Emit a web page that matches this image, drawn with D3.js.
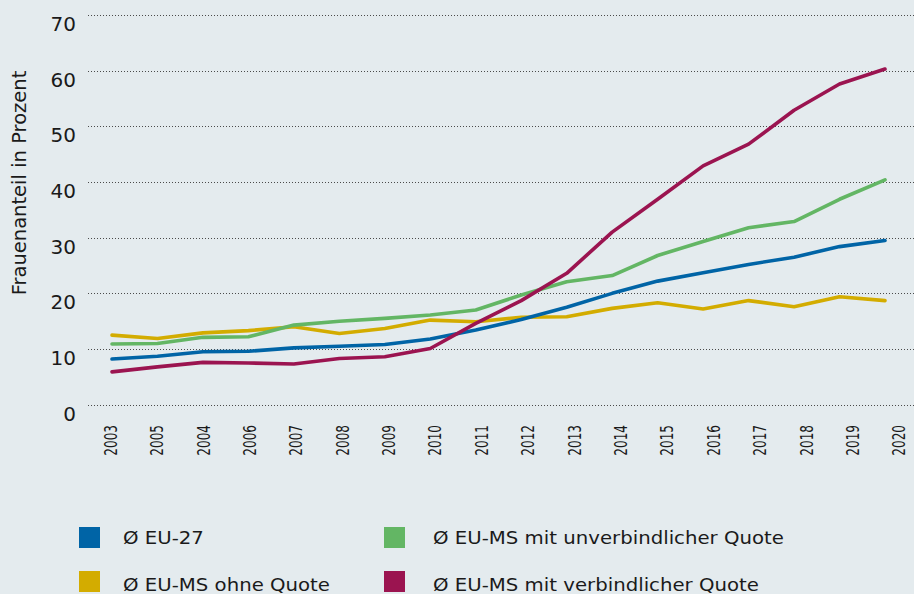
<!DOCTYPE html>
<html>
<head>
<meta charset="utf-8">
<script src="https://cdn.jsdelivr.net/npm/d3@7"></script>
<style>
  html, body { margin: 0; padding: 0; background: #e4ebee; }
  text { font-family: "DejaVu Sans", sans-serif; fill: #1a1a1a; }
</style>
</head>
<body>
<div id="chart"></div>
<script>
// years as printed under the axis (order kept as in the source)
var yearLabels = ["2003", "2005", "2004", "2006", "2007", "2008", "2009", "2010", "2011",
  "2012", "2013", "2014", "2015", "2016", "2017", "2018", "2019", "2020"];

var yTicks = [0, 10, 20, 30, 40, 50, 60, 70];

var seriesNames = ["Ø EU-27", "Ø EU-MS mit unverbindlicher Quote",
  "Ø EU-MS ohne Quote", "Ø EU-MS mit verbindlicher Quote"];

var euAvg      = [8.2, 8.7, 9.5, 9.6, 10.2, 10.5, 10.8, 11.8, 13.4, 15.3, 17.5, 20.0, 22.2, 23.7, 25.2, 26.5, 28.4, 29.5];
var unverbindl = [10.9, 11.0, 12.1, 12.2, 14.3, 15.0, 15.5, 16.1, 17.0, 19.7, 22.1, 23.2, 26.8, 29.3, 31.8, 32.9, 36.9, 40.4];
var ohneQuote  = [12.5, 11.9, 12.9, 13.3, 14.0, 12.8, 13.7, 15.2, 14.9, 15.7, 15.8, 17.3, 18.3, 17.2, 18.7, 17.6, 19.4, 18.7];
var verbindl   = [5.9, 6.8, 7.6, 7.5, 7.3, 8.3, 8.6, 10.1, 14.6, 18.7, 23.6, 31.0, 36.9, 42.9, 46.8, 52.9, 57.6, 60.3];

var colors = ["#0064a6", "#63b664", "#d3ac00", "#9b1450"];

// draw order: yellow, blue, green, magenta on top
var series = [
  { name: seriesNames[2], values: ohneQuote, color: colors[2] },
  { name: seriesNames[0], values: euAvg, color: colors[0] },
  { name: seriesNames[1], values: unverbindl, color: colors[1] },
  { name: seriesNames[3], values: verbindl, color: colors[3] }
];

var width = 914, height = 594;

var svg = d3.select("#chart").append("svg")
  .attr("width", width)
  .attr("height", height);

svg.append("rect")
  .attr("width", width)
  .attr("height", height)
  .attr("fill", "#e4ebee");

var y = d3.scaleLinear().domain([0, 70]).range([404.7, 15]);
// data points and printed labels are not quite on the same grid in the source
var x = d3.scalePoint().domain(yearLabels).range([112, 885]);
var xLab = d3.scalePoint().domain(yearLabels).range([110, 898.5]);

// dotted gridlines
svg.selectAll(".grid")
  .data(yTicks)
  .enter()
  .append("line")
    .attr("class", "grid")
    .attr("x1", 88)
    .attr("x2", width)
    .attr("y1", function (d) { return Math.round(y(d)) + 0.5; })
    .attr("y2", function (d) { return Math.round(y(d)) + 0.5; })
    .attr("stroke", "#4a4a4a")
    .attr("stroke-width", 1)
    .attr("stroke-dasharray", "1,2");

// y axis labels (sit just under their line)
var yAxis = d3.axisLeft(y).tickValues(yTicks).tickSize(0).tickPadding(0);
var gy = svg.append("g").attr("transform", "translate(76,0)").call(yAxis);
gy.select(".domain").remove();
gy.selectAll("text")
  .attr("font-size", "20px")
  .attr("font-family", "'DejaVu Sans', sans-serif")
  .attr("fill", "#1a1a1a")
  .attr("dy", "0.78em");

// x axis labels, rotated and condensed
var xAxis = d3.axisBottom(xLab).tickSize(0).tickPadding(0);
var gx = svg.append("g").attr("transform", "translate(0,425)").call(xAxis);
gx.select(".domain").remove();
gx.selectAll("text")
  .attr("font-size", "17.5px")
  .attr("font-family", "'DejaVu Sans', sans-serif")
  .attr("fill", "#1a1a1a")
  .attr("text-anchor", "end")
  .attr("y", 0)
  .attr("dy", "0.36em")
  .attr("transform", "rotate(-90) scale(0.69,1)");

// y title
svg.append("text")
  .attr("transform", "translate(26,183) rotate(-90)")
  .attr("text-anchor", "middle")
  .attr("font-size", "19.5px")
  .text("Frauenanteil in Prozent");

// lines
var line = d3.line()
  .x(function (d, i) { return x(yearLabels[i]); })
  .y(function (d) { return y(d); });

svg.selectAll(".series")
  .data(series)
  .enter()
  .append("path")
    .attr("class", "series")
    .attr("d", function (d) { return line(d.values); })
    .attr("fill", "none")
    .attr("stroke", function (d) { return d.color; })
    .attr("stroke-width", 3.6)
    .attr("stroke-linejoin", "round")
    .attr("stroke-linecap", "round");

// legend
var legendItems = [
  { name: seriesNames[0], color: colors[0], col: 0, row: 0 },
  { name: seriesNames[1], color: colors[1], col: 1, row: 0 },
  { name: seriesNames[2], color: colors[2], col: 0, row: 1 },
  { name: seriesNames[3], color: colors[3], col: 1, row: 1 }
];
var boxX = [79, 384], textX = [123, 433], rowY = [527, 571], baseY = [543.5, 590.5];

var lg = svg.selectAll(".legend")
  .data(legendItems)
  .enter()
  .append("g")
    .attr("class", "legend");

lg.append("rect")
  .attr("x", function (d) { return boxX[d.col]; })
  .attr("y", function (d) { return rowY[d.row]; })
  .attr("width", 21)
  .attr("height", 21)
  .attr("fill", function (d) { return d.color; });

// the source type is wider than DejaVu, so stretch it a bit
lg.append("text")
  .attr("transform", function (d) {
    return "translate(" + textX[d.col] + "," + baseY[d.row] + ") scale(1.16,1)";
  })
  .attr("font-size", "17px")
  .text(function (d) { return d.name; });
</script>
</body>
</html>
